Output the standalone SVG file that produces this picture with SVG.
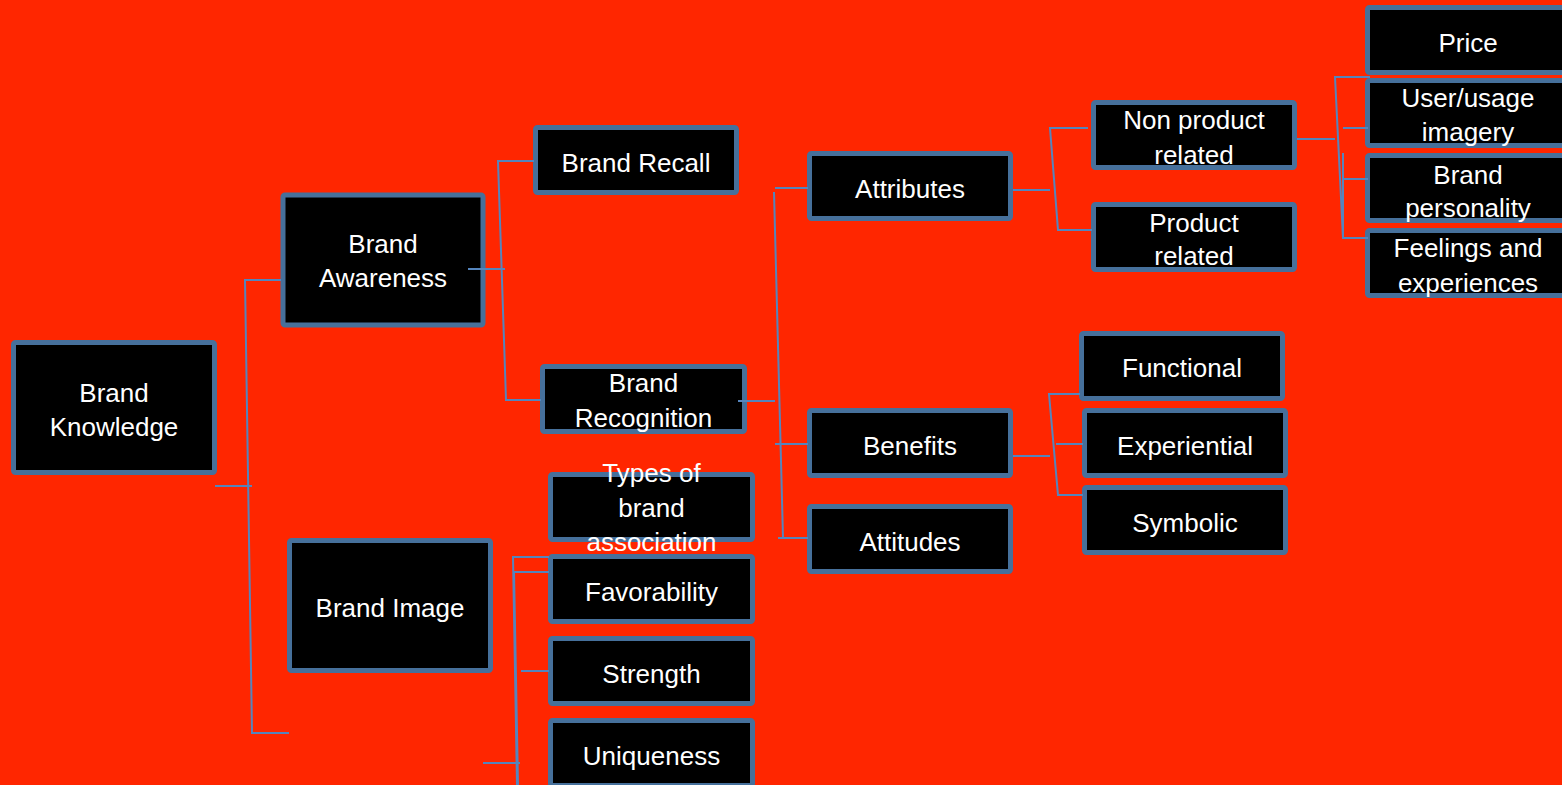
<svg xmlns="http://www.w3.org/2000/svg" width="1562" height="785" viewBox="0 0 1562 785">
  <style>
    .box { fill: #000000; stroke: #46709B; stroke-width: 5; }
    .lbl { fill: #FFFFFF; font-family: "Liberation Sans", Arial, sans-serif; font-size: 26px; text-anchor: middle; }
    .wire { fill: none; stroke: #5585BD; stroke-width: 2; }
  </style>
  <rect width="1562" height="785" fill="#FF2600"/>

  <g id="brand-knowledge">
    <rect class="box" x="13.5" y="342.5" width="201" height="130" rx="2"/>
    <text class="lbl" x="114" y="402">Brand</text>
    <text class="lbl" x="114" y="436">Knowledge</text>
  </g>
  <g id="brand-awareness">
    <rect class="box" x="283" y="195" width="200" height="130" rx="2"/>
    <text class="lbl" x="383" y="253">Brand</text>
    <text class="lbl" x="383" y="287">Awareness</text>
  </g>
  <g id="brand-image">
    <rect class="box" x="289.5" y="540.5" width="201" height="130" rx="2"/>
    <text class="lbl" x="390" y="617">Brand Image</text>
  </g>
  <g id="brand-recall">
    <rect class="box" x="535.5" y="127.5" width="201" height="65" rx="2"/>
    <text class="lbl" x="636" y="172">Brand Recall</text>
  </g>
  <g id="brand-recognition">
    <rect class="box" x="542.5" y="366.5" width="202" height="65" rx="2"/>
    <text class="lbl" x="643.5" y="392">Brand</text>
    <text class="lbl" x="643.5" y="427">Recognition</text>
  </g>
  <g id="attributes">
    <rect class="box" x="809.5" y="153.5" width="201" height="65" rx="2"/>
    <text class="lbl" x="910" y="198">Attributes</text>
  </g>
  <g id="benefits">
    <rect class="box" x="809.5" y="410.5" width="201" height="65" rx="2"/>
    <text class="lbl" x="910" y="455">Benefits</text>
  </g>
  <g id="attitudes">
    <rect class="box" x="809.5" y="506.5" width="201" height="65" rx="2"/>
    <text class="lbl" x="910" y="551">Attitudes</text>
  </g>
  <g id="non-product-related">
    <rect class="box" x="1093.5" y="102.5" width="201" height="65" rx="2"/>
    <text class="lbl" x="1194" y="129">Non product</text>
    <text class="lbl" x="1194" y="164">related</text>
  </g>
  <g id="product-related">
    <rect class="box" x="1093.5" y="204.5" width="201" height="65" rx="2"/>
    <text class="lbl" x="1194" y="232">Product</text>
    <text class="lbl" x="1194" y="265">related</text>
  </g>
  <g id="price">
    <rect class="box" x="1367.5" y="7.5" width="201" height="65" rx="2"/>
    <text class="lbl" x="1468" y="52">Price</text>
  </g>
  <g id="user-usage-imagery">
    <rect class="box" x="1367.5" y="80.5" width="201" height="65" rx="2"/>
    <text class="lbl" x="1468" y="107">User/usage</text>
    <text class="lbl" x="1468" y="141">imagery</text>
  </g>
  <g id="brand-personality">
    <rect class="box" x="1367.5" y="155.5" width="201" height="65" rx="2"/>
    <text class="lbl" x="1468" y="184">Brand</text>
    <text class="lbl" x="1468" y="217">personality</text>
  </g>
  <g id="feelings-experiences">
    <rect class="box" x="1367.5" y="230.5" width="201" height="65" rx="2"/>
    <text class="lbl" x="1468" y="257">Feelings and</text>
    <text class="lbl" x="1468" y="292">experiences</text>
  </g>
  <g id="functional">
    <rect class="box" x="1081.5" y="333.5" width="201" height="65" rx="2"/>
    <text class="lbl" x="1182" y="377">Functional</text>
  </g>
  <g id="experiential">
    <rect class="box" x="1084.5" y="410.5" width="201" height="65" rx="2"/>
    <text class="lbl" x="1185" y="455">Experiential</text>
  </g>
  <g id="symbolic">
    <rect class="box" x="1084.5" y="487.5" width="201" height="65" rx="2"/>
    <text class="lbl" x="1185" y="532">Symbolic</text>
  </g>
  <g id="types-of-brand-association">
    <rect class="box" x="550.5" y="474.5" width="202" height="65" rx="2"/>
    <text class="lbl" x="651.5" y="482">Types of</text>
    <text class="lbl" x="651.5" y="517">brand</text>
    <text class="lbl" x="651.5" y="551">association</text>
  </g>
  <g id="favorability">
    <rect class="box" x="550.5" y="556.5" width="202" height="65" rx="2"/>
    <text class="lbl" x="651.5" y="601">Favorability</text>
  </g>
  <g id="strength">
    <rect class="box" x="550.5" y="638.5" width="202" height="65" rx="2"/>
    <text class="lbl" x="651.5" y="683">Strength</text>
  </g>
  <g id="uniqueness">
    <rect class="box" x="550.5" y="720.5" width="202" height="65" rx="2"/>
    <text class="lbl" x="651.5" y="765">Uniqueness</text>
  </g>

  <!-- connectors, drawn over the boxes -->
  <g id="connectors" class="wire">
    <!-- Brand Knowledge -->
    <path d="M281,280 H245 L252,733 H289"/>
    <path d="M215,486 H252"/>
    <!-- Brand Awareness -->
    <path d="M534,161 H498 L506,400 H541"/>
    <path d="M468,269 H505"/>
    <!-- Brand Recognition -->
    <path d="M775,188 H808"/>
    <path d="M774,192 L783,538"/>
    <path d="M778,538 H808"/>
    <path d="M775,444 H808"/>
    <path d="M738,401 H775"/>
    <!-- Attributes -->
    <path d="M1013,190 H1050"/>
    <path d="M1088,128 H1050 L1058,230 H1092"/>
    <!-- Non product related -->
    <path d="M1297,139 H1335"/>
    <path d="M1370,77 H1335 L1343,238 H1368"/>
    <path d="M1343,153 V238"/>
    <path d="M1343,128 H1368"/>
    <path d="M1343,179 H1368"/>
    <!-- Benefits -->
    <path d="M1013,456 H1050"/>
    <path d="M1080,394 H1049 L1058,495 H1083"/>
    <path d="M1056,444 H1083"/>
    <!-- Brand Image -->
    <path d="M549,557 H513 L517,785"/>
    <path d="M549,572 H514 L518,785"/>
    <path d="M521,671 H549"/>
    <path d="M483,763 H520"/>
  </g>
</svg>
